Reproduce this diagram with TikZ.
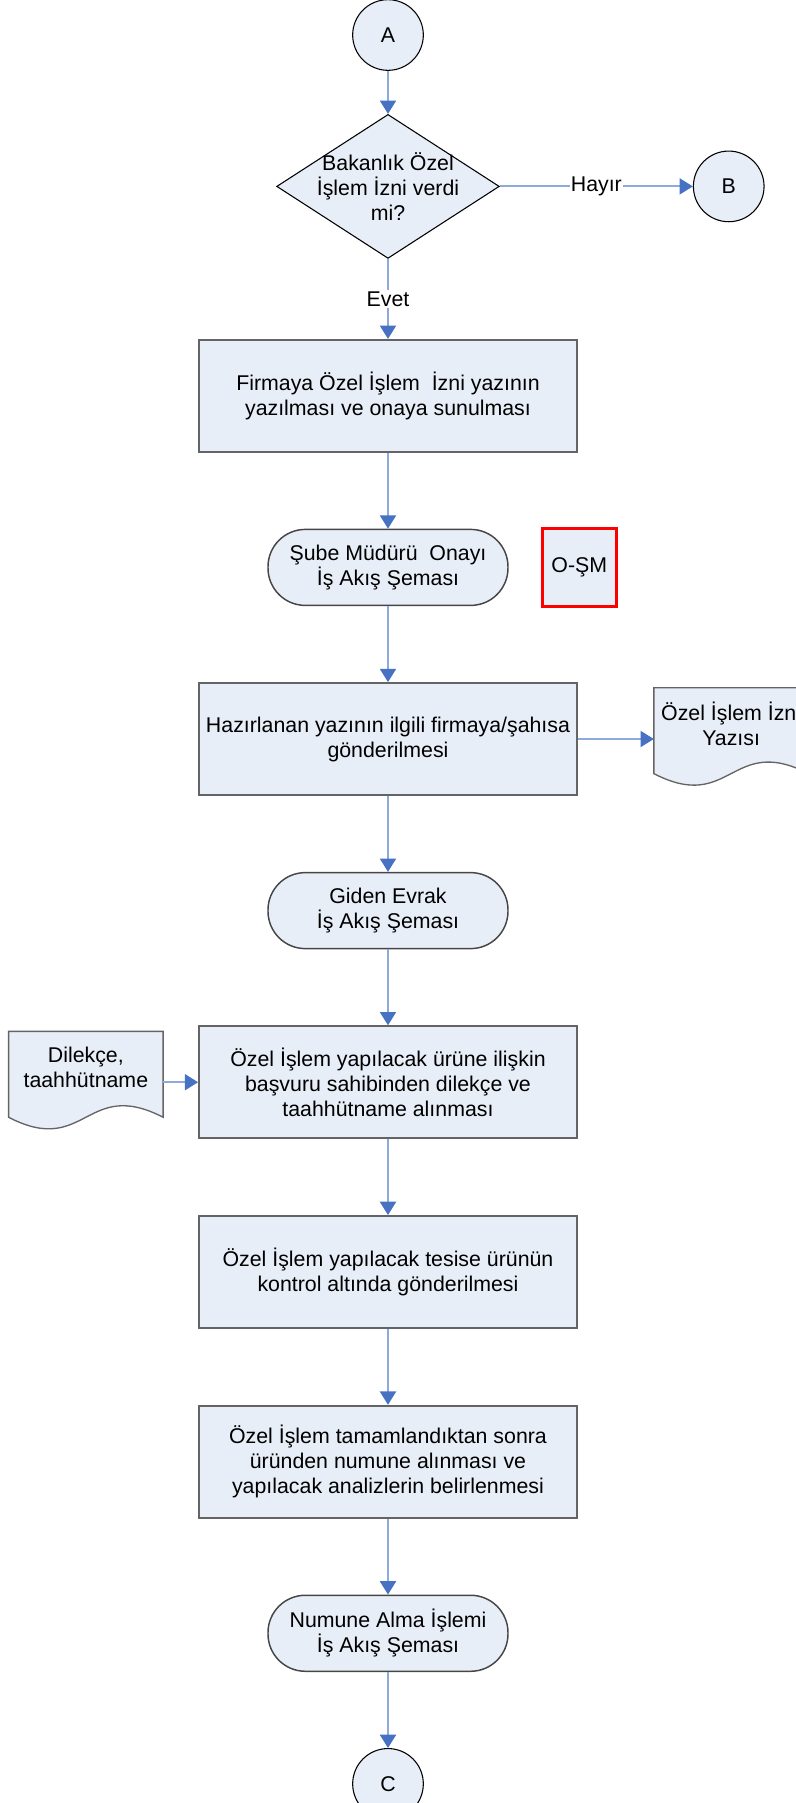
\documentclass[tikz,border=0pt]{standalone}
\usepackage{fontspec}
\setmainfont{Liberation Sans}
\usetikzlibrary{positioning,arrows.meta,shapes.geometric,calc}
\pgfdeclarelayer{bg}
\pgfsetlayers{bg,main}
\definecolor{shapefill}{RGB}{232,238,247}
\definecolor{linkline}{RGB}{140,170,220}
\definecolor{linktip}{RGB}{71,114,196}
\definecolor{edgegray}{RGB}{100,100,100}
\tikzset{
	>={Triangle[length=10pt,width=12pt,color=linktip]}
}

\begin{document}
\begin{tikzpicture}[
node distance = 57pt,
every node/.style = {
	font = \fontsize{16}{18.75}\selectfont
},
connector/.style = {
	circle,
	draw,
	fill = shapefill,
	line width = 0.8pt,
	minimum size = 53pt,
	inner sep = 0pt
},
decision/.style = {
	diamond,
	draw,
	fill = shapefill,
	line width = 0.8pt,
	minimum width = 167pt,
	minimum height = 108pt,
	inner sep = 0pt
},
process/.style = {
	draw = edgegray,
	fill = shapefill,
	line width = 1.3pt,
	minimum width = 283.5pt,
	minimum height = 84pt,
	align = center
},
subflow/.style = {
	draw = edgegray!70!black,
	fill = shapefill,
	line width = 1.1pt,
	rounded corners = 28pt,
	minimum width = 180pt,
	minimum height = 57pt,
	align = center
},
docnode/.style = {
	minimum width = 115.5pt,
	minimum height = 54pt,
	inner sep = 0pt,
	align = center
},
docline/.style = {
	draw = edgegray,
	fill = shapefill,
	line width = 1pt
},
flow/.style = {
	->,
	line width = 1.5pt,
	linkline
},
flow label/.style = {
	fill = white,
	text = black,
	inner sep = 1pt
}
]

\useasboundingbox (-291pt,26.25pt) rectangle (306pt,-1326pt);

\node [connector] (a) {A};
\node [decision, below = 32.25pt of a, label = {[align = center]center:{Bakanlık Özel\\İşlem İzni verdi\\mi?}}] (dec) {};
\node [connector, right = 144.75pt of dec] (b) {B};

\node [process, below = 60pt of dec] (yazi) {Firmaya Özel İşlem\ \ İzni yazının\\yazılması ve onaya sunulması};
\node [subflow, below = of yazi] (onay) {Şube Müdürü\ \ Onayı\\İş Akış Şeması};
\node [draw = red, fill = shapefill, line width = 2.4pt, minimum width = 55.5pt, minimum height = 58.5pt, right = 24pt of onay] (osm) {O-ŞM};

\node [process, below = of onay] (gonder) {Hazırlanan yazının ilgili firmaya/şahısa\\gönderilmesi};
\node [docnode, right = 57pt of gonder, yshift = 11.25pt] (izindoc) {Özel İşlem İzni\\Yazısı};

\node [subflow, below = of gonder] (evrak) {Giden Evrak\\İş Akış Şeması};
\node [process, below = of evrak] (dilekce) {Özel İşlem yapılacak ürüne ilişkin\\başvuru sahibinden dilekçe ve\\taahhütname alınması};
\node [docnode, left = 26.25pt of dilekce, yshift = 10.9pt] (dildoc) {Dilekçe,\\taahhütname};

\node [process, below = of dilekce] (tesis) {Özel İşlem yapılacak tesise ürünün\\kontrol altında gönderilmesi};
\node [process, below = of tesis] (numune) {Özel İşlem tamamlandıktan sonra\\üründen numune alınması ve\\yapılacak analizlerin belirlenmesi};
\node [subflow, below = of numune] (alma) {Numune Alma İşlemi\\İş Akış Şeması};
\node [connector, below = of alma] (c) {C};

\begin{pgfonlayer}{bg}
\draw[docline] ($(izindoc.south west)+(0,-10pt)$) -- (izindoc.north west) -- (izindoc.north east) -- ($(izindoc.south east)+(0,-10pt)$) .. controls ($(izindoc.south)+(0,20pt)$) and ($(izindoc.south)+(0,-40pt)$) .. ($(izindoc.south west)+(0,-10pt)$) -- cycle;
\draw[docline] ($(dildoc.south west)+(0,-10pt)$) -- (dildoc.north west) -- (dildoc.north east) -- ($(dildoc.south east)+(0,-10pt)$) .. controls ($(dildoc.south)+(0,20pt)$) and ($(dildoc.south)+(0,-40pt)$) .. ($(dildoc.south west)+(0,-10pt)$) -- cycle;
\end{pgfonlayer}

\draw[flow] (a) -- (dec);
\draw[flow] (dec) -- node[flow label] (hayir) {Hayır} (b);
\draw[flow] (dec) -- node[flow label] (evet) {Evet} (yazi);
\draw[flow] (yazi) -- (onay);
\draw[flow] (onay) -- (gonder);
\draw[flow] (gonder) -- (gonder -| izindoc.west);
\draw[flow] (gonder) -- (evrak);
\draw[flow] (evrak) -- (dilekce);
\draw[flow] (dilekce -| dildoc.east) -- (dilekce);
\draw[flow] (dilekce) -- (tesis);
\draw[flow] (tesis) -- (numune);
\draw[flow] (numune) -- (alma);
\draw[flow] (alma) -- (c);

\end{tikzpicture}
\end{document}
